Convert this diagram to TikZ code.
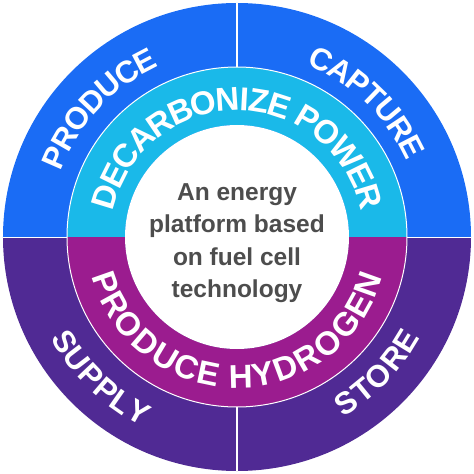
\documentclass[tikz,border=0pt]{standalone}
\usepackage{fontspec}
\setmainfont{Liberation Sans}
\usetikzlibrary{decorations.text}
\definecolor{outerblue}{RGB}{26,108,245}
\definecolor{outerpurple}{RGB}{80,42,148}
\definecolor{midcyan}{RGB}{26,185,233}
\definecolor{midmagenta}{RGB}{155,28,143}
\definecolor{centergray}{RGB}{77,77,77}
\newcommand\myOuterFont{\fontsize{31}{37}\selectfont\bfseries}
\newcommand\myMidFont{\fontsize{33}{40}\selectfont\bfseries}
\newcommand\myCenterFont{\fontsize{24.5}{32}\selectfont\bfseries}
\tikzset{
  divider/.style={draw=white, line width=1pt},
  outerlabel/.style={decorate, decoration={text along path, text={|\myOuterFont|#1}, text align=center, text color=white, raise=-11.1pt}},
  midlabel/.style={decorate, decoration={text along path, text={|\myMidFont|#1}, text align=center, text color=white, raise=-11.8pt}},
  centertext/.style={text=centergray, font=\myCenterFont, inner sep=0pt, anchor=base}
}
\begin{document}
\begin{tikzpicture}
\useasboundingbox (-237pt,-237pt) rectangle (237pt,237pt);
% outer ring halves
\fill[outerblue] (234pt,0pt) arc[start angle=0,end angle=180,radius=234pt] -- cycle;
\fill[outerpurple] (-234pt,0pt) arc[start angle=180,end angle=360,radius=234pt] -- cycle;
% middle ring halves
\fill[midcyan] (170pt,0pt) arc[start angle=0,end angle=180,radius=170pt] -- (-112pt,0pt) arc[start angle=180,end angle=0,radius=112pt] -- cycle;
\fill[midmagenta] (-170pt,0pt) arc[start angle=180,end angle=360,radius=170pt] -- (112pt,0pt) arc[start angle=360,end angle=180,radius=112pt] -- cycle;
\fill[white] (0pt,0pt) circle[radius=112pt];
% white separators
\draw[divider] (0pt,0pt) circle[radius=170pt];
\draw[divider] (0pt,170pt) -- (0pt,233.5pt);
\draw[divider] (0pt,-170pt) -- (0pt,-233.5pt);
\draw[divider] (-233.5pt,0pt) -- (-170pt,0pt);
\draw[divider] (170pt,0pt) -- (233.5pt,0pt);
% outer ring labels
\path[outerlabel={PRODUCE}] (177:199pt) arc[start angle=177,end angle=97,radius=199pt];
\path[outerlabel={CAPTURE}] (86:197pt) arc[start angle=86,end angle=6,radius=197pt];
\path[outerlabel={SUPPLY}] (186:201pt) arc[start angle=186,end angle=266,radius=201pt];
\path[outerlabel={STORE}] (276:198pt) arc[start angle=276,end angle=356,radius=198pt];
% middle ring labels
\path[midlabel={DECARBONIZE POWER}] (200:138pt) arc[start angle=200,end angle=-20,radius=138pt];
\path[midlabel={PRODUCE HYDROGEN}] (160:139pt) arc[start angle=160,end angle=380,radius=139pt];
% centre text
\node[centertext] (line1) at (0pt,37pt) {An energy};
\node[centertext] (line2) at (0pt,4.5pt) {platform based};
\node[centertext] (line3) at (0pt,-28pt) {on fuel cell};
\node[centertext] (line4) at (0pt,-60.5pt) {technology};
\end{tikzpicture}
\end{document}
